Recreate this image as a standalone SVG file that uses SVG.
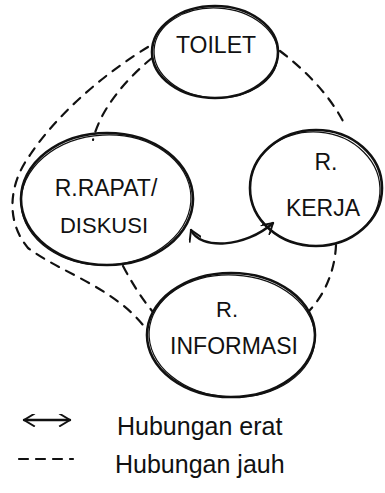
<svg xmlns="http://www.w3.org/2000/svg" width="385" height="493" viewBox="0 0 385 493">
<style>
.node{fill:none;stroke:#111;stroke-width:2.6}
.node2{fill:none;stroke:#111;stroke-width:1.2}
.lbl{font-family:"Liberation Sans",Arial,sans-serif;fill:#111;text-anchor:middle}
.dash{fill:none;stroke:#111;stroke-width:2.2;stroke-dasharray:9 8;stroke-linecap:round}
.solid{fill:none;stroke:#111;stroke-width:2.4;stroke-linecap:round}
.leg{font-family:"Liberation Sans",Arial,sans-serif;fill:#111;font-size:25px}
</style>
<defs>
<marker id="ah" viewBox="0 0 12 12" refX="11" refY="6" markerWidth="13" markerHeight="13" markerUnits="userSpaceOnUse" orient="auto-start-reverse">
<path d="M1,0 L11,6 L1,12" fill="none" stroke="#111" stroke-width="1.8"/>
</marker>
</defs>
<rect width="385" height="493" fill="#fff"/>
<g id="connectors">
<path class="dash" d="M148,47 C110,70 60,110 30,155 C8,185 6,222 28,248 C60,272 112,287 143,325"/>
<path class="dash" d="M152,58 C125,80 100,110 93,140"/>
<path class="dash" d="M123,266 C133,285 143,300 153,312"/>
<path class="dash" d="M280,51 C305,70 330,95 345,125"/>
<path class="dash" d="M336,245 C335,270 325,295 308,312"/>
<path class="solid" d="M191,230 C200,250 245,248 273,223" marker-start="url(#ah)" marker-end="url(#ah)"/>
</g>
<g id="toilet">
<ellipse class="node" cx="215" cy="52" rx="63" ry="46"/>
<ellipse class="node2" cx="216" cy="53" rx="62" ry="45" transform="rotate(3 216 53)"/>
<text class="lbl" x="216" y="53" font-size="23">TOILET</text>
</g>
<g id="rapat">
<ellipse class="node" cx="107" cy="199" rx="86" ry="66"/>
<ellipse class="node2" cx="106" cy="200" rx="85" ry="65" transform="rotate(-3 106 200)"/>
<text class="lbl" x="106" y="196" font-size="23">R.RAPAT/</text>
<text class="lbl" x="104" y="233" font-size="22">DISKUSI</text>
</g>
<g id="kerja">
<ellipse class="node" cx="316" cy="188" rx="66" ry="58"/>
<ellipse class="node2" cx="315" cy="189" rx="65" ry="57" transform="rotate(4 315 189)"/>
<text class="lbl" x="326" y="170" font-size="23">R.</text>
<text class="lbl" x="323" y="216" font-size="23">KERJA</text>
</g>
<g id="informasi">
<ellipse class="node" cx="231" cy="335" rx="84" ry="62"/>
<ellipse class="node2" cx="232" cy="336" rx="83" ry="61" transform="rotate(3 232 336)"/>
<text class="lbl" x="227" y="317" font-size="22">R.</text>
<text class="lbl" x="234" y="354" font-size="23">INFORMASI</text>
</g>
<g id="legend">
<path class="solid" d="M24,420 L70,420" marker-start="url(#ah)" marker-end="url(#ah)"/>
<path class="dash" d="M19,459 L73,459" stroke-dasharray="6 6"/>
<text class="leg" x="117" y="435">Hubungan erat</text>
<text class="leg" x="115" y="473">Hubungan jauh</text>
</g>
</svg>
